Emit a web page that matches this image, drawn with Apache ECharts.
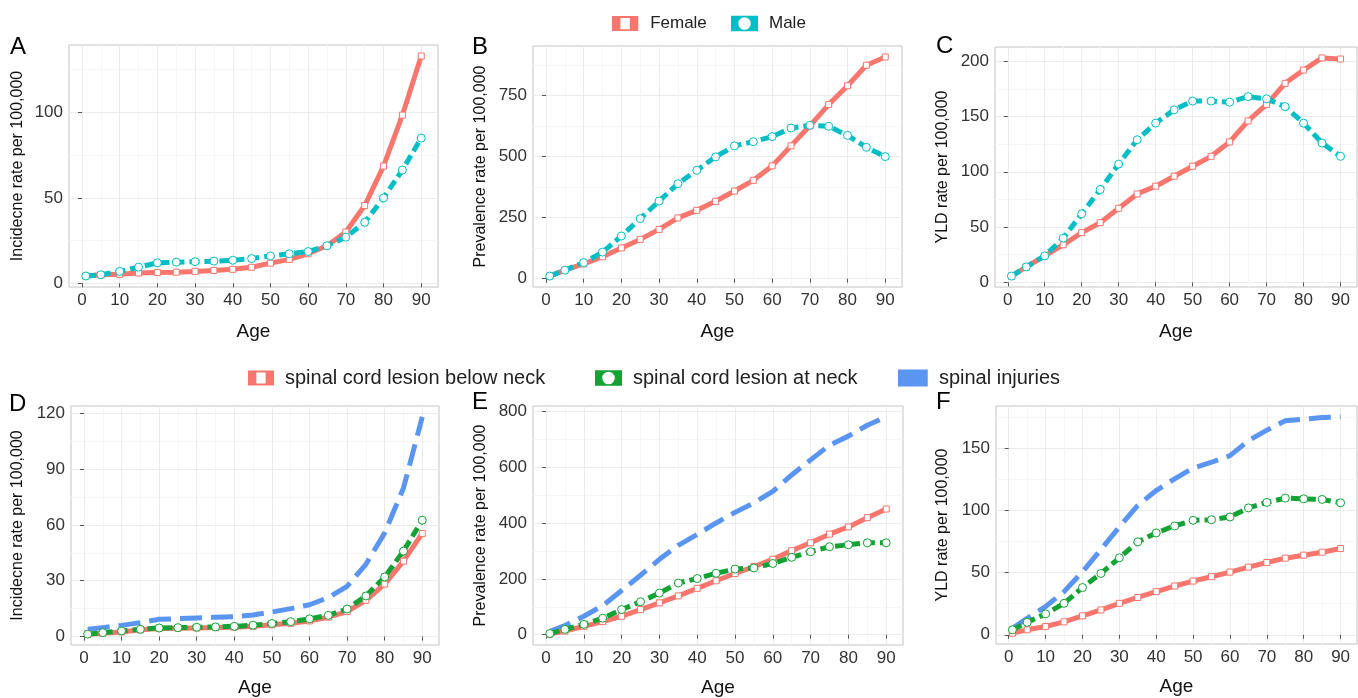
<!DOCTYPE html>
<html><head><meta charset="utf-8">
<script src="https://cdn.jsdelivr.net/npm/echarts@6/dist/echarts.min.js"></script>
<style>html,body{margin:0;padding:0;background:#fff;}#chart{width:1358px;height:698px;}</style>
</head><body><div id="chart"></div>
<script>
// ---------- data ----------
const ages = [1,5,10,15,20,25,30,35,40,45,50,55,60,65,70,75,80,85,90];
const xTickVals = [0,10,20,30,40,50,60,70,80,90];

const incFemale = [4.3,5,5.3,6,6.3,6.5,7,7.5,8.2,9.4,11.8,14,17.3,22,30,45.5,68.6,98.4,133];
const incMale   = [4.3,5,7,9.5,12,12.4,12.7,13,13.5,14.5,16,17.3,18.6,22,27,35.7,50,66.3,85];
const prevFemale = [11,35,61,90,126,161,202,249,280,317,359,403,462,544,626,713,790,874,908];
const prevMale   = [11,35,66,109,175,246,318,389,444,499,544,561,582,617,628,624,587,538,500];
const yldFemale = [5.7,14,24,34,45,54,67,80,87,96,105,114,127,146,161,180,192,203,202];
const yldMale   = [5.7,14,24,40,62,84,107,129,144,156,164,164,163,168,166,159,144,126,114];

const incBelowNeck = [1.3,1.8,2.5,3.6,4.3,4.5,4.6,4.8,5,5.5,6.3,7.1,8.4,10.4,13.4,19.5,28.2,40.5,55.4];
const incAtNeck    = [1.3,2.1,3,3.9,4.6,4.8,5,5.2,5.5,6.1,7,8,9.5,11.4,14.8,21.8,32,45.9,62.5];
const incSpinal    = [3.9,4.8,6,7.5,9.3,9.6,10,10.4,10.7,11.6,13.2,15,17.1,20.9,27,38.8,55.7,79.8,118];
const prevBelowNeck = [2,13,30,47,66,90,114,139,166,193,219,244,270,301,329,360,386,419,450];
const prevAtNeck    = [4,19,37,59,90,118,149,185,201,220,235,239,255,277,297,315,322,329,329];
const prevSpinal    = [12,33,66,104,158,213,270,320,359,400,438,472,513,572,626,679,711,750,780];
const yldBelowNeck = [1.3,4,6.7,10.4,15.2,20,25.3,30,34.7,39.2,43.2,46.7,50.4,54.4,58.1,61.6,64,66.4,69.3];
const yldAtNeck    = [4,10,16.8,25.3,38,49.3,61.9,74.7,81.9,87.5,92,92.5,94.7,102,106.4,109.9,109.3,108.8,106.1];
const yldSpinal    = [5.3,13.3,22.7,34.7,50.7,68.5,86.7,104,116,125.3,134,138.7,144,156,164.5,172,173.3,174.7,175.2];

const yTicksA = [0,50,100];
const yTicksB = [0,250,500,750];
const yTicksC = [0,50,100,150,200];
const yTicksD = [0,30,60,90,120];
const yTicksE = [0,200,400,600,800];
const yTicksF = [0,50,100,150];

const sexNames = ['Female','Male'];
const typeNames = ['spinal cord lesion below neck','spinal cord lesion at neck','spinal injuries'];

// ---------- styles ----------
const FONT = "'Liberation Sans', Arial, Helvetica, sans-serif";
const styles = {
  'Female': {color:'#F8766D', dash:'solid', symbol:'rect', size:6},
  'Male': {color:'#00BFC4', dash:[10,5], symbol:'circle', size:8},
  'spinal cord lesion below neck': {color:'#F8766D', dash:'solid', symbol:'rect', size:6},
  'spinal cord lesion at neck': {color:'#12A334', dash:[10,5], symbol:'circle', size:8},
  'spinal injuries': {color:'#5B95F2', dash:[22,9], symbol:'none', size:0}
};

const panels = [
  {letter:'A', ylab:'Incidecne rate per 100,000', yTicks:yTicksA, names:sexNames, vals:[incFemale,incMale],
   box:{left:69,top:45,width:369,height:242}, lx:10, ly:35, xGap:35, yGap:43},
  {letter:'B', ylab:'Prevalence rate per 100,000', yTicks:yTicksB, names:sexNames, vals:[prevFemale,prevMale],
   box:{left:533,top:46,width:369,height:241}, lx:472, ly:35, xGap:35, yGap:44},
  {letter:'C', ylab:'YLD rate per 100,000', yTicks:yTicksC, names:sexNames, vals:[yldFemale,yldMale],
   box:{left:995,top:47,width:362,height:240}, lx:936, ly:34, xGap:35, yGap:44},
  {letter:'D', ylab:'Incidecne rate per 100,000', yTicks:yTicksD, names:typeNames, vals:[incBelowNeck,incAtNeck,incSpinal],
   box:{left:71,top:406,width:368,height:239}, lx:9, ly:392, xGap:33, yGap:45},
  {letter:'E', ylab:'Prevalence rate per 100,000', yTicks:yTicksE, names:typeNames, vals:[prevBelowNeck,prevAtNeck,prevSpinal],
   box:{left:533,top:406,width:370,height:239}, lx:472, ly:390, xGap:33, yGap:44},
  {letter:'F', ylab:'YLD rate per 100,000', yTicks:yTicksF, names:typeNames, vals:[yldBelowNeck,yldAtNeck,yldSpinal],
   box:{left:996,top:406,width:361,height:238}, lx:936, ly:390, xGap:33, yGap:45}
];

function expandRange(arr){
  const mn = Math.min(...arr), mx = Math.max(...arr), r = mx - mn;
  return [mn - 0.05*r, mx + 0.05*r];
}
function minorOf(ticks, range){
  const step = ticks[1]-ticks[0];
  const out = [ticks[0]-step/2];
  ticks.forEach(t => out.push(t+step/2));
  return out.filter(v => v > range[0] && v < range[1]);
}

const xr = expandRange(ages);
const xMinor = minorOf(xTickVals, xr);

const grids = [], xAxes = [], yAxes = [], series = [], graphics = [];
panels.forEach((p, i) => {
  grids.push(Object.assign({show:true, borderColor:'#c4c4c4', borderWidth:1, backgroundColor:'#fff', containLabel:false}, p.box));
  const yr = expandRange([].concat(...p.vals));
  const yMinor = minorOf(p.yTicks, yr);
  xAxes.push({
    type:'value', gridIndex:i, min:xr[0], max:xr[1], position:'bottom',
    axisLine:{show:false},
    axisTick:{show:true, length:4, customValues:xTickVals, lineStyle:{color:'#555', width:1}},
    axisLabel:{customValues:xTickVals, color:'#333', fontSize:17, margin:5, fontFamily:FONT},
    splitLine:{show:true, lineStyle:{color:'#ebebeb', width:1}},
    name:'Age', nameLocation:'middle', nameGap:p.xGap,
    nameTextStyle:{fontSize:19, color:'#111', fontFamily:FONT}
  });
  xAxes.push({
    type:'value', gridIndex:i, min:xr[0], max:xr[1], position:'top',
    axisLine:{show:false}, axisTick:{show:false, customValues:xMinor}, axisLabel:{show:false},
    splitLine:{show:true, lineStyle:{color:'#f6f6f6', width:1}}
  });
  yAxes.push({
    type:'value', gridIndex:i, min:yr[0], max:yr[1], position:'left',
    axisLine:{show:false},
    axisTick:{show:true, length:4, customValues:p.yTicks, lineStyle:{color:'#555', width:1}},
    axisLabel:{customValues:p.yTicks, color:'#333', fontSize:17, margin:6, fontFamily:FONT},
    splitLine:{show:true, lineStyle:{color:'#ebebeb', width:1}},
    name:p.ylab, nameLocation:'middle', nameGap:p.yGap, nameRotate:90,
    nameTextStyle:{fontSize:16, color:'#111', fontFamily:FONT}
  });
  yAxes.push({
    type:'value', gridIndex:i, min:yr[0], max:yr[1], position:'right',
    axisLine:{show:false}, axisTick:{show:false, customValues:yMinor}, axisLabel:{show:false},
    splitLine:{show:true, lineStyle:{color:'#f6f6f6', width:1}}
  });
  const order = p.names.map((n,k)=>k);
  if (p.names.length === 3) order.sort((a,b)=> (a===2? -1 : b===2 ? 1 : a-b));
  order.forEach(k => {
    const name = p.names[k], st = styles[name], vals = p.vals[k];
    series.push({
      type:'line', name:name, xAxisIndex:2*i, yAxisIndex:2*i,
      data: ages.map((a,j)=>[a, vals[j]]),
      smooth:false, showSymbol: st.symbol !== 'none', showAllSymbol:true,
      symbol: st.symbol, symbolSize: st.size,
      lineStyle:{color:st.color, width:5, type:st.dash, cap:'butt', join:'round'},
      itemStyle:{color:'#ffffff', borderColor:st.color, borderWidth:1},
      emphasis:{disabled:true}, silent:true, z: 3
    });
  });
  graphics.push({type:'text', left:p.lx, top:p.ly, style:{text:p.letter, font:'24px '+FONT, fill:'#000'}});
});

const iconRectHole = 'path://M0,0 L28,0 L28,16 L0,16 Z M9,2 L9,14 L19,14 L19,2 Z';
const iconCircleHole = 'path://M0,0 L28,0 L28,16 L0,16 Z M14,1.5 A6.5,6.5 0 1,0 14,14.5 A6.5,6.5 0 1,0 14,1.5 Z';
const iconSolid = 'path://M0,0 L28,0 L28,16 L0,16 Z';

function legendItem(name, icon, left, top, w, h, fs){
  const c = styles[name].color;
  return {
    left:left, top:top, orient:'horizontal', itemWidth:w, itemHeight:h, padding:0,
    selectedMode:false,
    data:[{name:name, icon:icon, itemStyle:{color:c, borderWidth:0}}],
    textStyle:{fontSize:fs, color:'#222', fontFamily:FONT, padding:[0,0,0,6]}
  };
}
const legends = [
  legendItem('Female', iconRectHole, 612, 15, 28, 15, 17),
  legendItem('Male', iconCircleHole, 731, 15, 27, 16, 17),
  legendItem('spinal cord lesion below neck', iconRectHole, 248, 368, 26, 17, 20),
  legendItem('spinal cord lesion at neck', iconCircleHole, 595, 368, 27, 17, 20),
  legendItem('spinal injuries', iconSolid, 898, 368, 30, 17, 20)
];

const chart = echarts.init(document.getElementById('chart'), null, {renderer:'canvas'});
chart.setOption({
  animation:false,
  backgroundColor:'#fff',
  grid:grids, xAxis:xAxes, yAxis:yAxes, series:series,
  legend:legends, graphic:graphics
});
</script>
</body></html>
